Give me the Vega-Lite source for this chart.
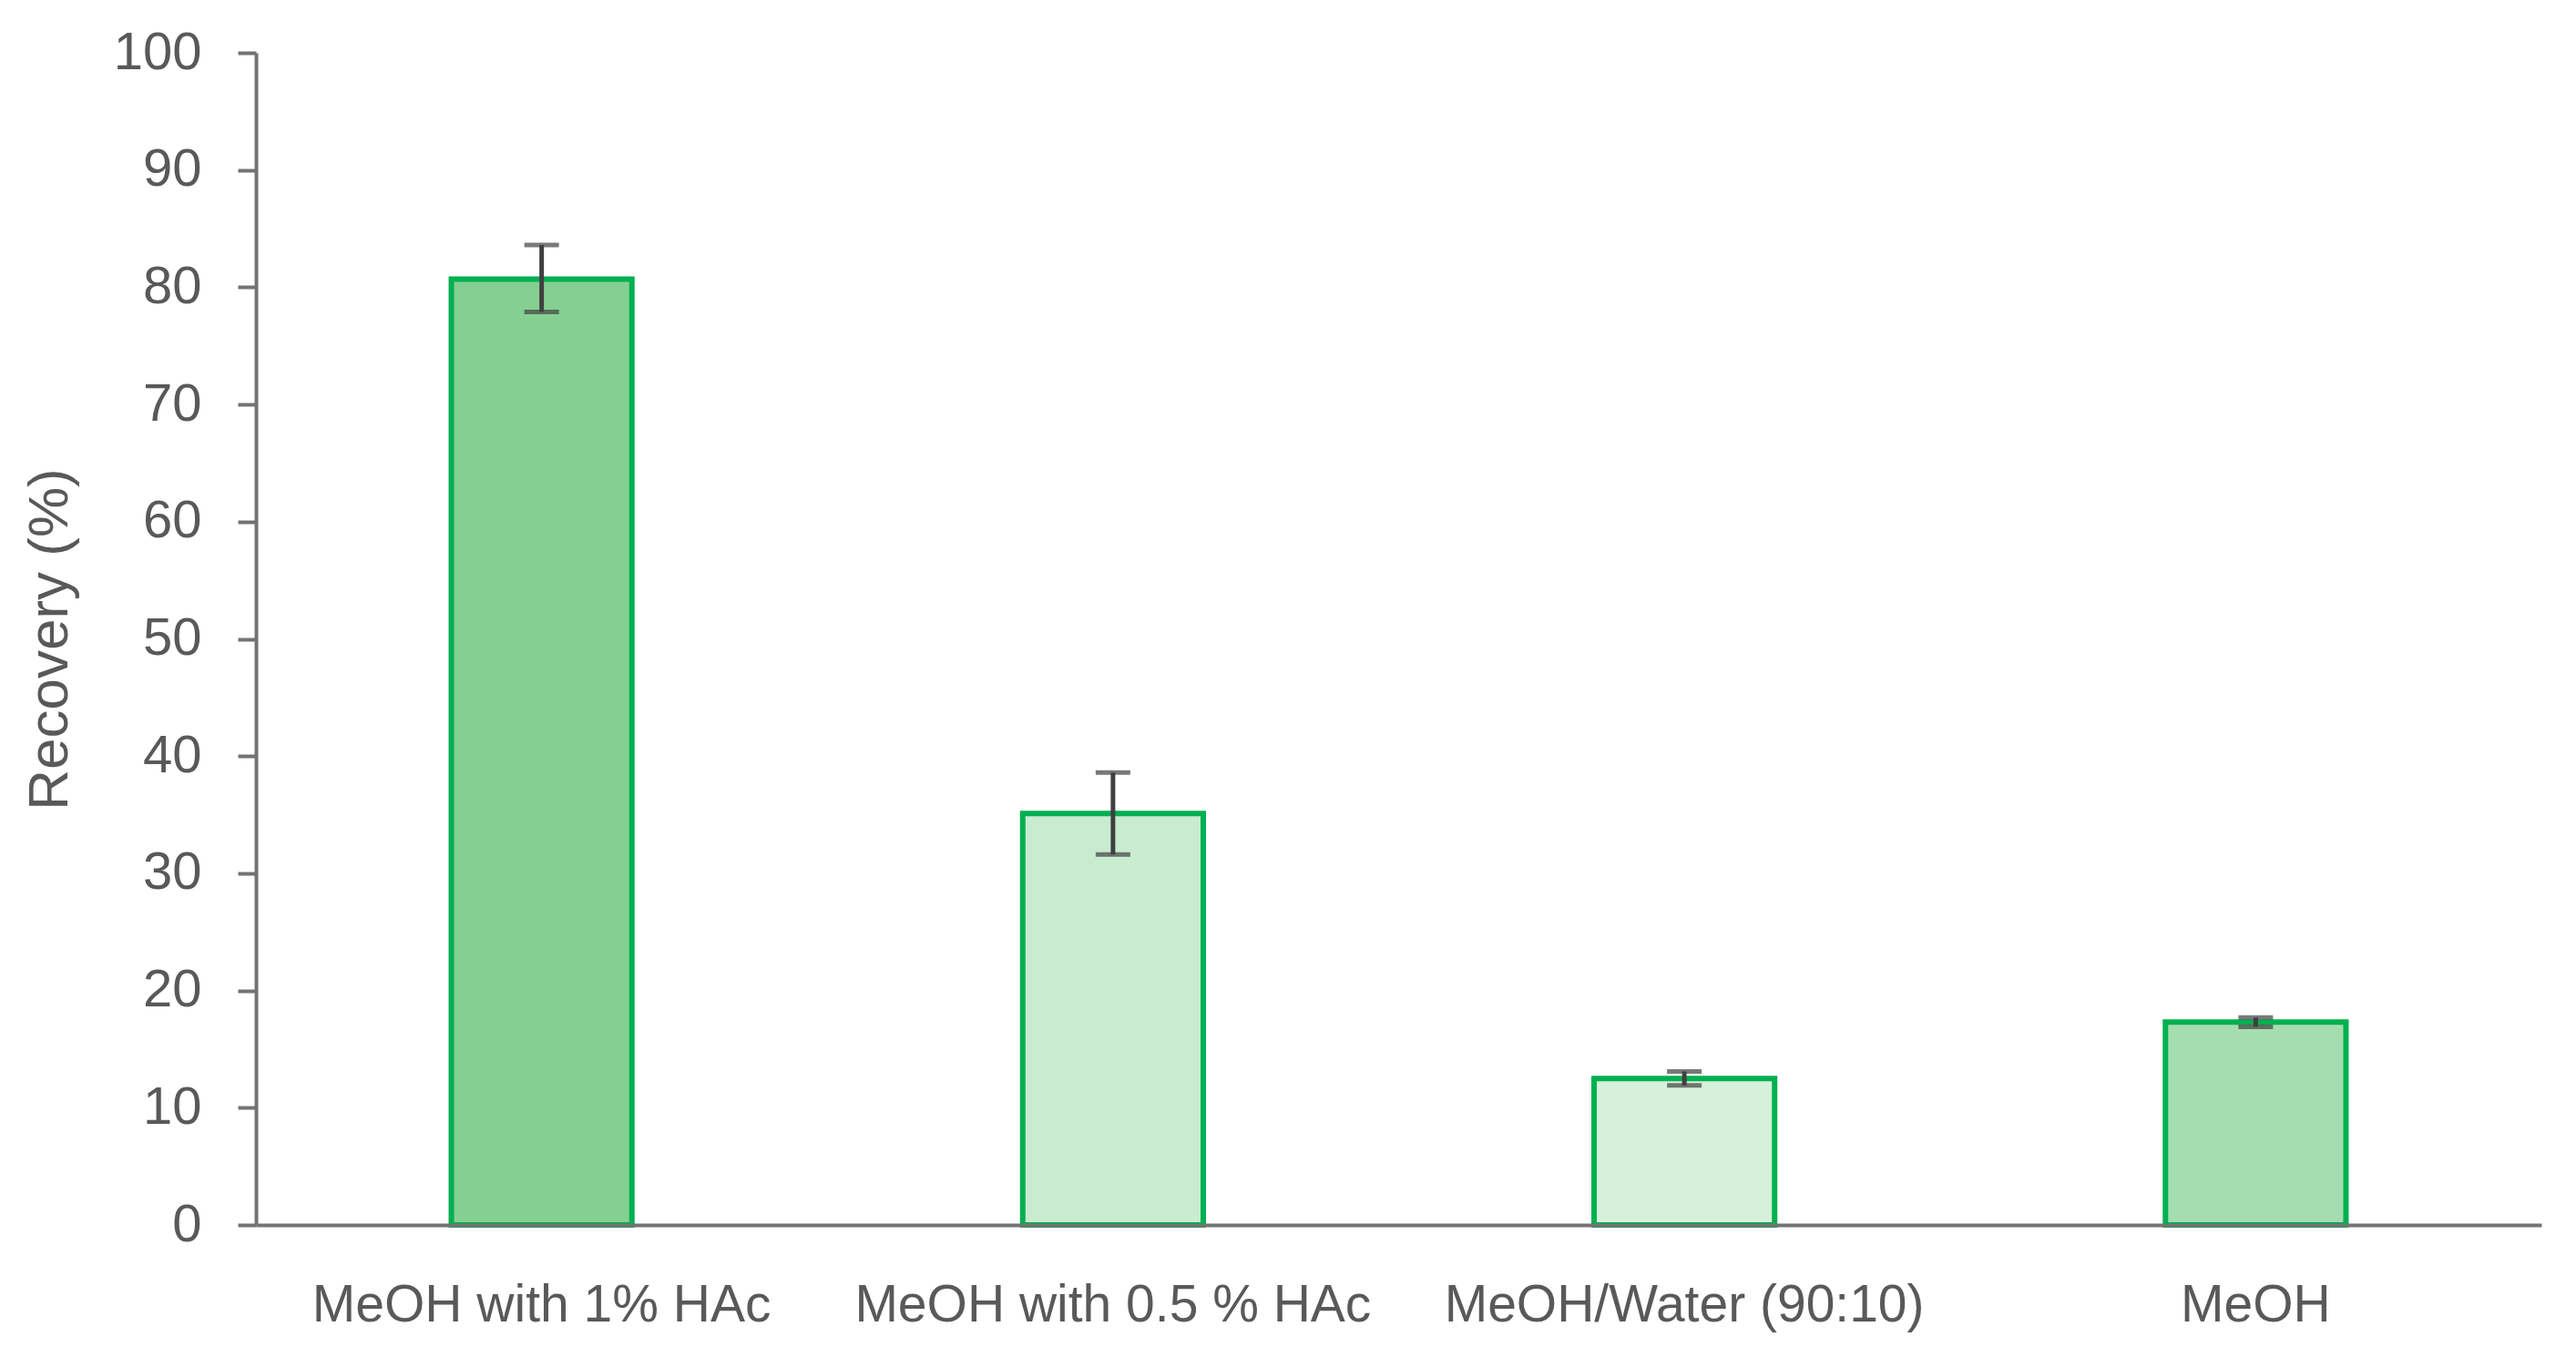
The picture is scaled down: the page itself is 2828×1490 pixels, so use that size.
{
  "$schema": "https://vega.github.io/schema/vega-lite/v6.json",
  "autosize": {"type": "none"},
  "padding": {"left": 281, "top": 58, "right": 38, "bottom": 145},
  "width": 2509,
  "height": 1287,
  "background": "white",
  "config": {
    "view": {"stroke": null},
    "font": "Liberation Sans"
  },
  "data": {
    "values": [
      {"solvent": "MeOH with 1% HAc", "recovery": 80.7, "lo": 77.9, "hi": 83.6},
      {"solvent": "MeOH with 0.5 % HAc", "recovery": 35.1, "lo": 31.6, "hi": 38.6},
      {"solvent": "MeOH/Water (90:10)", "recovery": 12.5, "lo": 11.9, "hi": 13.1},
      {"solvent": "MeOH", "recovery": 17.3, "lo": 16.9, "hi": 17.7}
    ]
  },
  "encoding": {
    "x": {
      "field": "solvent",
      "type": "nominal",
      "sort": null,
      "scale": {"paddingInner": 0.684, "paddingOuter": 0.342},
      "axis": {
        "title": null,
        "labelAngle": 0,
        "labelFontSize": 57,
        "labelColor": "#595959",
        "labelPadding": 60,
        "labelLimit": 0,
        "ticks": false,
        "domainColor": "#737373",
        "domainWidth": 4,
        "zindex": 1
      }
    }
  },
  "layer": [
    {
      "mark": {"type": "bar", "stroke": "#00B050", "strokeWidth": 6},
      "encoding": {
        "y": {
          "field": "recovery",
          "type": "quantitative",
          "scale": {"domain": [0, 100], "nice": false},
          "axis": {
            "title": "Recovery (%)",
            "titleFontSize": 62,
            "titleFontWeight": "normal",
            "titleColor": "#595959",
            "titlePadding": 38,
            "values": [0, 10, 20, 30, 40, 50, 60, 70, 80, 90, 100],
            "labelFontSize": 58,
            "labelColor": "#595959",
            "labelPadding": 40,
            "tickSize": 20,
            "tickWidth": 4,
            "tickColor": "#737373",
            "domainColor": "#737373",
            "domainWidth": 4,
            "grid": false
          }
        },
        "fill": {
          "field": "solvent",
          "type": "nominal",
          "sort": null,
          "scale": {"range": ["#86cf92", "#c9ecd0", "#d6f1db", "#a6ddb0"]},
          "legend": null
        }
      }
    },
    {
      "mark": {"type": "rule", "color": "#404040", "strokeWidth": 5},
      "encoding": {
        "y": {"field": "lo", "type": "quantitative"},
        "y2": {"field": "hi"}
      }
    },
    {
      "mark": {"type": "tick", "color": "#404040", "thickness": 5, "size": 38},
      "encoding": {
        "y": {"field": "lo", "type": "quantitative"}
      }
    },
    {
      "mark": {"type": "tick", "color": "#404040", "thickness": 5, "size": 38},
      "encoding": {
        "y": {"field": "hi", "type": "quantitative"}
      }
    }
  ]
}
